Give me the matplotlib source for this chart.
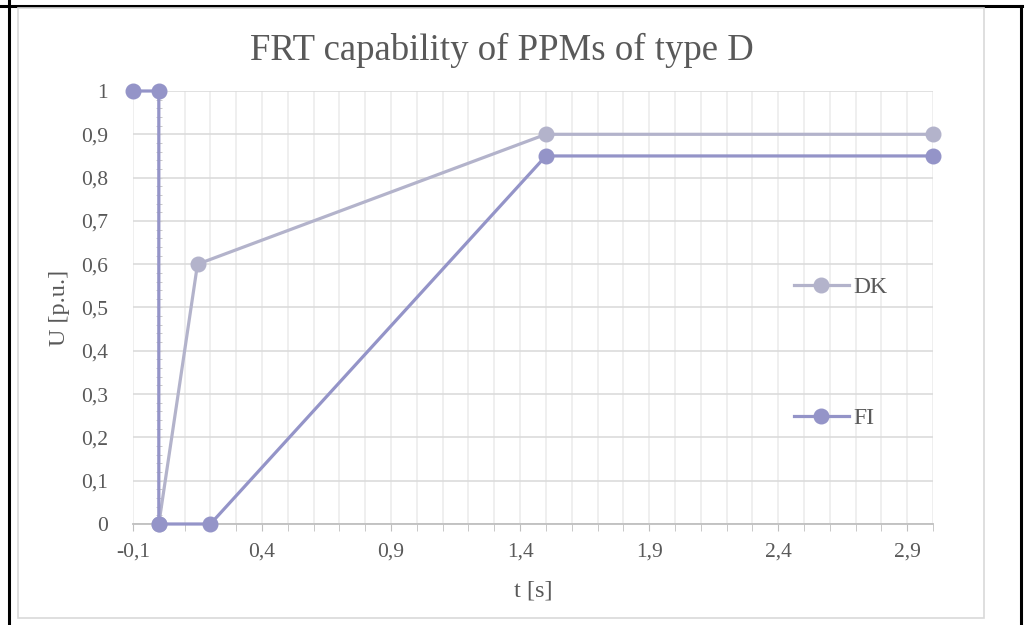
import numpy as np
import matplotlib.pyplot as plt
from matplotlib.ticker import FuncFormatter, FixedLocator, MultipleLocator
from matplotlib.lines import Line2D
from matplotlib.patches import Rectangle

plt.rcParams['font.family'] = ['Liberation Serif', 'DejaVu Serif']

# FRT voltage-against-time profiles
dk_t = [0, 0.15, 1.5, 3.0]
dk_u = [0, 0.6, 0.9, 0.9]
fi_t = [-0.1, 0, 0, 0.2, 1.5, 3.0]
fi_u = [1, 1, 0, 0, 0.85, 0.85]

dk_col = '#B3B3CB'
fi_col = '#9494C8'
txt_col = '#595959'

W, H = 1027, 625
fig = plt.figure(figsize=(W / 100, H / 100), dpi=100)

# table cell borders behind the chart
fig.add_artist(Line2D([0, 1022 / W], [1 - 6 / H, 1 - 6 / H], color='black', lw=2.2))
fig.add_artist(Line2D([8.5 / W, 8.5 / W], [0, 1], color='black', lw=2.2))
fig.add_artist(Line2D([1021 / W, 1021 / W], [0, 1 - 6 / H], color='black', lw=2.2))
# chart area
fig.add_artist(Rectangle((18 / W, 1 - 618 / H), (984 - 18) / W, (618 - 8) / H,
                         facecolor='white', edgecolor='#D9D9D9', lw=1.2, zorder=2))

ax = fig.add_axes([133 / W, 1 - 524 / H, (933 - 133) / W, (524 - 91) / H], zorder=3)
ax.set_facecolor('none')

ax.plot(dk_t, dk_u, color=dk_col, lw=2.3, marker='o', ms=10.5, label='DK', zorder=4,
        clip_on=False)
ax.plot(fi_t, fi_u, color=fi_col, lw=2.3, marker='o', ms=10.5, label='FI', zorder=5,
        clip_on=False)

ax.set_xlim(-0.1, 3.0)
ax.set_ylim(0, 1)

fmt = FuncFormatter(lambda v, p: f'{round(v, 2):g}'.replace('.', ','))
ax.xaxis.set_major_locator(FixedLocator(np.round(np.arange(-0.1, 3.0, 0.5), 2)))
ax.xaxis.set_minor_locator(MultipleLocator(0.1))
ax.xaxis.set_major_formatter(fmt)
ax.yaxis.set_major_locator(MultipleLocator(0.1))
ax.yaxis.set_major_formatter(fmt)

for s in ['top', 'right', 'left']:
    ax.spines[s].set_visible(False)
ax.spines['bottom'].set_color('#BFBFBF')
ax.spines['bottom'].set_linewidth(1.3)

ax.tick_params(axis='x', which='both', direction='out', length=5, color='#BFBFBF',
               labelsize=15.5, labelcolor=txt_col, pad=8)
ax.tick_params(axis='y', which='both', length=0, labelsize=15.5, labelcolor=txt_col, pad=18)

ax.grid(axis='y', which='major', color='#D9D9D9', lw=1.1)
ax.grid(axis='x', which='both', color='#EBEBEB', lw=1.1)
ax.set_axisbelow(True)

# vertical axis crossing at t = 0
sec = ax.secondary_yaxis(0.1 / 3.1)
sec.spines['left'].set_color('#BFBFBF')
sec.yaxis.set_major_locator(MultipleLocator(0.1))
sec.yaxis.set_minor_locator(MultipleLocator(0.02))
sec.tick_params(which='both', direction='inout', length=5, color='#BFBFBF', labelleft=False)

ax.set_xlabel('t [s]', fontsize=17.5, color=txt_col, labelpad=14)
ax.set_ylabel('U [p.u.]', fontsize=17.5, color=txt_col, labelpad=8)
fig.text(502 / W, 1 - 50 / H, 'FRT capability of PPMs of type D', ha='center', va='center',
         fontsize=26.5, color=txt_col, zorder=4)

leg = ax.legend(loc='center left', bbox_to_anchor=(773 / W, 1 - 353 / H),
                bbox_transform=fig.transFigure, frameon=False, fontsize=17,
                labelspacing=4.65, handlelength=2.3, handletextpad=0.2)
for t in leg.get_texts():
    t.set_color(txt_col)

fig.savefig('out.png', dpi=100)
